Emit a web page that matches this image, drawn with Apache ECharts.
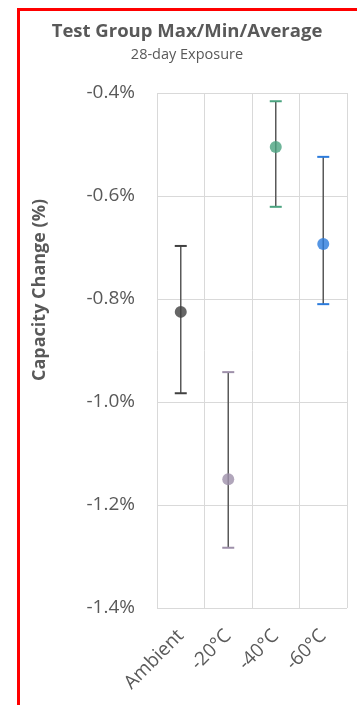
<!DOCTYPE html>
<html>
<head>
<meta charset="utf-8">
<script src="https://cdn.jsdelivr.net/npm/echarts@6/dist/echarts.min.js"></script>
<style>
  html, body { margin: 0; padding: 0; background: #fff; }
  #chart { width: 357px; height: 705px; }
</style>
</head>
<body>
<div id="chart"></div>
<script>
// Test groups and their capacity change statistics (%)
const groups = ['Ambient', '-20°C', '-40°C', '-60°C'];
const avgValues = [-0.825, -1.150, -0.505, -0.693];
const maxValues = [-0.697, -0.942, -0.416, -0.524];
const minValues = [-0.983, -1.283, -0.621, -0.810];
const groupColors = ['#404040', '#9e90aa', '#4aa37f', '#2b7bdc'];

const yMin = -1.4, yMax = -0.4, yStep = 0.2;

const rangeData = groups.map((g, i) => [i, minValues[i], maxValues[i]]);
const avgData = groups.map((g, i) => ({
  value: [i, avgValues[i]],
  itemStyle: { color: groupColors[i] }
}));

const chart = echarts.init(document.getElementById('chart'));
chart.setOption({
  animation: false,
  backgroundColor: '#fff',
  textStyle: { fontFamily: 'Open Sans' },
  title: {
    text: 'Test Group Max/Min/Average',
    subtext: '28-day Exposure',
    left: 182, top: 17, textAlign: 'center',
    itemGap: 6,
    textStyle: { fontSize: 18.5, fontWeight: 'bold', color: '#595959', fontFamily: 'Open Sans' },
    subtextStyle: { fontSize: 14.5, color: '#595959', fontFamily: 'Open Sans' }
  },
  grid: { left: 157, right: 10, top: 93, bottom: 97 },
  xAxis: {
    type: 'category',
    data: groups,
    boundaryGap: true,
    axisLine: { show: false },
    axisTick: { show: false },
    splitLine: { show: true, lineStyle: { color: '#d9d9d9', width: 1 } },
    axisLabel: {
      rotate: 45, interval: 0, margin: 25,
      color: '#595959', fontSize: 19, fontFamily: 'Open Sans'
    }
  },
  yAxis: {
    type: 'value',
    min: yMin, max: yMax, interval: yStep,
    axisLine: { show: false },
    axisTick: { show: false },
    splitLine: { lineStyle: { color: '#d9d9d9', width: 1 } },
    axisLabel: {
      margin: 22, color: '#595959', fontSize: 19, fontFamily: 'Open Sans',
      formatter: v => v.toFixed(1) + '%'
    }
  },
  graphic: [
    {
      type: 'rect', left: 16, top: 7,
      shape: { width: 350, height: 710 },
      style: { fill: 'none', stroke: '#ff0000', lineWidth: 3 }, silent: true
    },
    {
      type: 'text', x: 40, y: 290, rotation: Math.PI / 2,
      style: {
        text: 'Capacity Change (%)', fill: '#595959',
        font: 'bold 18px "Open Sans"', align: 'center', verticalAlign: 'middle'
      }
    }
  ],
  series: [
    {
      type: 'custom',
      name: 'Range',
      data: rangeData,
      renderItem: function (params, api) {
        const i = api.value(0);
        const lo = api.coord([i, api.value(1)]);
        const hi = api.coord([i, api.value(2)]);
        const c = groupColors[i];
        const half = 6;
        return {
          type: 'group',
          children: [
            { type: 'line', shape: { x1: lo[0], y1: lo[1], x2: hi[0], y2: hi[1] },
              style: { stroke: '#595959', lineWidth: 1.5 } },
            { type: 'line', shape: { x1: hi[0] - half, y1: hi[1], x2: hi[0] + half, y2: hi[1] },
              style: { stroke: c, lineWidth: 2 } },
            { type: 'line', shape: { x1: lo[0] - half, y1: lo[1], x2: lo[0] + half, y2: lo[1] },
              style: { stroke: c, lineWidth: 2 } }
          ]
        };
      },
      z: 2
    },
    {
      type: 'scatter',
      name: 'Average',
      data: avgData,
      symbol: 'circle',
      symbolSize: 12,
      z: 3
    }
  ]
});
</script>
</body>
</html>
